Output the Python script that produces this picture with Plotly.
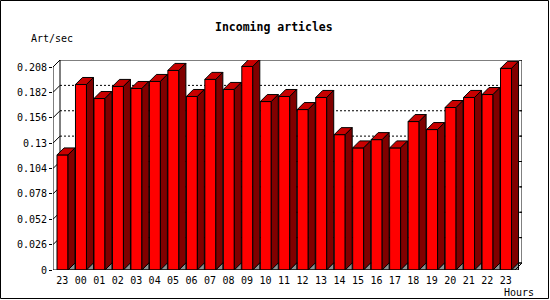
import plotly.graph_objects as go

# ---- data ----
hours = ["23", "00", "01", "02", "03", "04", "05", "06", "07", "08", "09", "10",
         "11", "12", "13", "14", "15", "16", "17", "18", "19", "20", "21", "22", "23"]
art_per_sec = [0.1179, 0.1901, 0.1757, 0.1881, 0.1860, 0.1932, 0.2045, 0.1778,
               0.1953, 0.1850, 0.2086, 0.1726, 0.1778, 0.1644, 0.1768, 0.1387,
               0.1251, 0.1336, 0.1251, 0.1521, 0.1439, 0.1665, 0.1768, 0.1798,
               0.2066]
y_tick_vals = [0, 0.026, 0.052, 0.078, 0.104, 0.13, 0.156, 0.182, 0.208]
y_tick_text = ["0", "0.026", "0.052", "0.078", "0.104", "0.13", "0.156", "0.182", "0.208"]
title_text = "Incoming articles"
y_title = "Art/sec"
x_title = "Hours"

# ---- layout geometry (styling) ----
W, H = 550, 300
L, R, T, B = 53, 28, 60, 30
PW, PH = W - L - R, H - T - B
DEPTH = 7  # px of 3D offset
n = len(hours)
ymax = y_tick_vals[-1]
dx = DEPTH * n / (PW - DEPTH)
dy = DEPTH * ymax / (PH - DEPTH)
xr_max = n + dx
yr_max = ymax + dy
ux = PW / xr_max  # px per x unit
uy = PH / yr_max  # px per y unit
front_off = 4.0 / ux
front_w = 11.0 / ux

FONT = "DejaVu Sans Mono"

fig = go.Figure()

# front faces
fig.add_trace(go.Bar(
    x=list(range(n)), y=art_per_sec, width=front_w, offset=front_off,
    marker=dict(color="#FF0000", line=dict(color="black", width=1)),
    hoverinfo="skip", showlegend=False))

tops_x, tops_y, sides_x, sides_y, gray_x, gray_y = [], [], [], [], [], []
for i, v in enumerate(art_per_sec):
    xl = i + front_off
    xr = xl + front_w
    tops_x += [xl, xr, xr + dx, xl + dx, xl, None]
    tops_y += [v, v, v + dy, v + dy, v, None]
    sides_x += [xr, xr, xr + dx, xr + dx, xr, None]
    sides_y += [0, v, v + dy, dy, 0, None]
    gray_x += [xr, xr + dx, xr + dx, xr, None]
    gray_y += [0, dy, 0, 0, None]

fig.add_trace(go.Scatter(x=tops_x, y=tops_y, mode="lines", fill="toself",
                         fillcolor="#C80000", line=dict(color="black", width=1),
                         hoverinfo="skip", showlegend=False))
fig.add_trace(go.Scatter(x=sides_x, y=sides_y, mode="lines", fill="toself",
                         fillcolor="#800000", line=dict(color="black", width=1),
                         hoverinfo="skip", showlegend=False))
fig.add_trace(go.Scatter(x=gray_x, y=gray_y, mode="lines", fill="toself",
                         fillcolor="#909090", line=dict(color="black", width=1),
                         hoverinfo="skip", showlegend=False))

shapes = []
blk = dict(color="black", width=1)
# back plane frame
shapes.append(dict(type="line", xref="x", yref="y", x0=dx, y0=dy, x1=dx, y1=ymax + dy, line=blk, layer="below"))
shapes.append(dict(type="line", xref="x", yref="y", x0=dx, y0=ymax + dy, x1=n + dx, y1=ymax + dy, line=blk, layer="below"))
shapes.append(dict(type="line", xref="x", yref="y", x0=n + dx, y0=dy, x1=n + dx, y1=ymax + dy, line=blk, layer="below"))
shapes.append(dict(type="line", xref="x", yref="y", x0=dx, y0=dy, x1=n + dx, y1=dy, line=blk, layer="below"))
# grid lines on back plane + diagonal stubs + right ticks
for yv in y_tick_vals[1:-1]:
    shapes.append(dict(type="line", xref="x", yref="y", x0=dx, y0=yv + dy, x1=n + dx, y1=yv + dy,
                       line=dict(color="black", width=1, dash="2px,2px"), layer="below"))
    shapes.append(dict(type="line", xref="x", yref="y", x0=0, y0=yv, x1=dx, y1=yv + dy, line=blk, layer="below"))
for yv in y_tick_vals:
    shapes.append(dict(type="line", xref="x", yref="y", x0=n + dx - 3 / ux, y0=yv + dy, x1=n + dx, y1=yv + dy, line=blk, layer="below"))
# front axes
shapes.append(dict(type="line", xref="x", yref="y", x0=0, y0=0, x1=0, y1=ymax, line=blk))
shapes.append(dict(type="line", xref="x", yref="y", x0=0, y0=ymax, x1=dx, y1=ymax + dy, line=blk))
shapes.append(dict(type="line", xref="x", yref="y", x0=0, y0=0, x1=n, y1=0, line=blk))
shapes.append(dict(type="line", xref="x", yref="y", x0=n, y0=0, x1=n + dx, y1=dy, line=blk))
# x ticks at category boundaries
for i in range(n + 1):
    shapes.append(dict(type="line", xref="x", yref="y", x0=i, y0=0, x1=i, y1=-3 / uy, line=blk))

# figure border (paper coords computed from pixels)
def pxx(x):
    return (x - L) / PW

def pxy(y):
    return (H - B - y) / PH

shapes.append(dict(type="rect", xref="paper", yref="paper", x0=pxx(0.5), y0=pxy(298.5),
                   x1=pxx(548.5), y1=pxy(0.5), line=blk, layer="above"))

annotations = [
    dict(text="<b>" + title_text + "</b>", xref="paper", yref="paper", x=pxx(274), y=pxy(27),
         showarrow=False, xanchor="center", yanchor="middle",
         font=dict(family=FONT, size=11.5, color="black")),
    dict(text=y_title, xref="paper", yref="paper", x=pxx(29), y=pxy(39), showarrow=False,
         xanchor="left", yanchor="middle", font=dict(family=FONT, size=10, color="black")),
    dict(text=x_title, xref="paper", yref="paper", x=pxx(519), y=pxy(292), showarrow=False,
         xanchor="center", yanchor="middle", font=dict(family=FONT, size=10, color="black")),
]

fig.update_layout(
    width=W, height=H, margin=dict(l=L, r=R, t=T, b=B, pad=0),
    paper_bgcolor="white", plot_bgcolor="white",
    showlegend=False, shapes=shapes, annotations=annotations,
    xaxis=dict(range=[0, xr_max], tickvals=[i + 0.5 for i in range(n)], ticktext=hours,
               ticks="", showgrid=False, zeroline=False, showline=False, fixedrange=True,
               ticklabelstandoff=3,
               tickfont=dict(family=FONT, size=10, color="black")),
    yaxis=dict(range=[0, yr_max], tickvals=y_tick_vals, ticktext=y_tick_text,
               ticks="outside", ticklen=3, tickcolor="black", tickwidth=1,
               showgrid=False, zeroline=False, showline=False, fixedrange=True,
               tickfont=dict(family=FONT, size=10, color="black")),
)

fig.write_html("out.html")
